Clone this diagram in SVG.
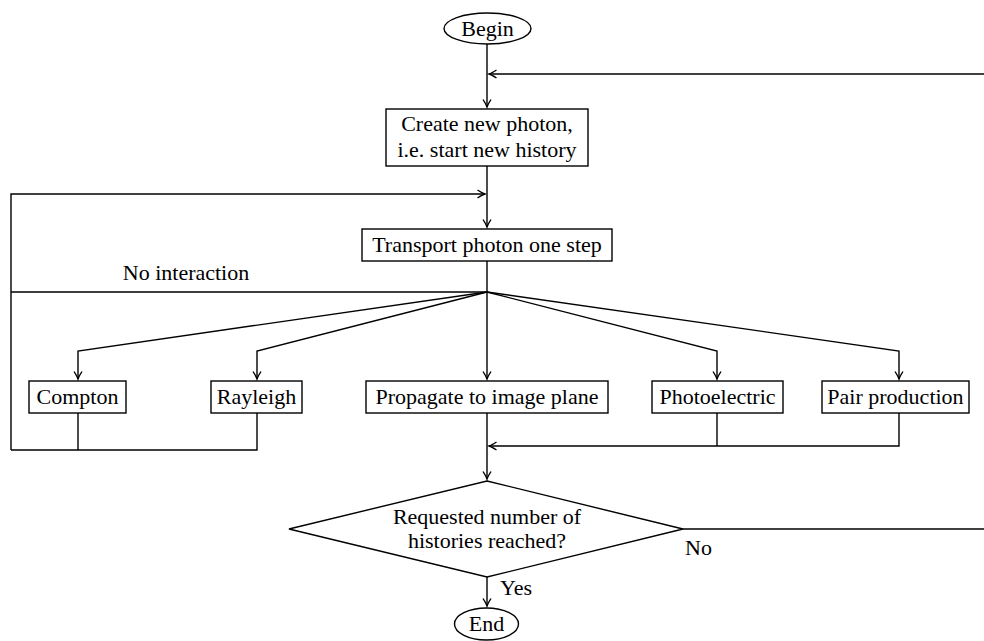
<svg xmlns="http://www.w3.org/2000/svg" width="984" height="641" viewBox="0 0 984 641">
<style>
.n{fill:#fff;stroke:#000;stroke-width:1.4}
.t{font-family:"Liberation Serif","DejaVu Serif",serif;font-size:22px;fill:#000}
.c{text-anchor:middle}
.e{fill:none;stroke:#000;stroke-width:1.4}
</style>
<defs>
<marker id="a" markerUnits="userSpaceOnUse" markerWidth="12" markerHeight="10" viewBox="-8 -4 9 8" refX="0" refY="0" orient="auto">
<path d="M-6,-3.2 Q-2,-0.6 0,0 Q-2,0.6 -6,3.2" fill="none" stroke="#000" stroke-width="1.1"/>
</marker>
</defs>
<g id="connectors">
<path class="e" d="M487,44 V107" marker-end="url(#a)"/>
<path class="e" d="M984,74 H489" marker-end="url(#a)"/>
<path class="e" d="M487,166 V227" marker-end="url(#a)"/>
<path class="e" d="M11,450 V194 H485" marker-end="url(#a)"/>
<path class="e" d="M487,261 V292 H11"/>
<path class="e" d="M487,292 L78,351 V379" marker-end="url(#a)"/>
<path class="e" d="M487,292 L257,351 V379" marker-end="url(#a)"/>
<path class="e" d="M487,292 V379" marker-end="url(#a)"/>
<path class="e" d="M487,292 L717,351 V379" marker-end="url(#a)"/>
<path class="e" d="M487,292 L899,351 V379" marker-end="url(#a)"/>
<path class="e" d="M78,413 V450"/>
<path class="e" d="M257,413 V450 H11"/>
<path class="e" d="M717,413 V446"/>
<path class="e" d="M899,413 V446 H489" marker-end="url(#a)"/>
<path class="e" d="M487,413 V479" marker-end="url(#a)"/>
<path class="e" d="M683,529 H984"/>
<path class="e" d="M487,577 V606" marker-end="url(#a)"/>
<text class="t" x="186" y="280" text-anchor="middle">No interaction</text>
<text class="t" x="685" y="555">No</text>
<text class="t" x="500" y="595">Yes</text>
</g>
<g id="begin">
<ellipse class="n" cx="487.5" cy="28.5" rx="43.5" ry="15.5"/>
<text class="t c" x="487.5" y="35.5">Begin</text>
</g>
<g id="create">
<rect class="n" x="386" y="109" width="202" height="57"/>
<text class="t c" x="487" y="131">Create new photon,</text>
<text class="t c" x="487" y="157">i.e. start new history</text>
</g>
<g id="transport">
<rect class="n" x="362" y="229" width="250" height="32"/>
<text class="t c" x="487" y="252">Transport photon one step</text>
</g>
<g id="compton">
<rect class="n" x="29" y="381" width="97" height="32"/>
<text class="t c" x="77.5" y="404">Compton</text>
</g>
<g id="rayleigh">
<rect class="n" x="211" y="381" width="91" height="32"/>
<text class="t c" x="256.5" y="404">Rayleigh</text>
</g>
<g id="propagate">
<rect class="n" x="366" y="381" width="242" height="32"/>
<text class="t c" x="487" y="404">Propagate to image plane</text>
</g>
<g id="photoelectric">
<rect class="n" x="652" y="381" width="131" height="32"/>
<text class="t c" x="717.5" y="404">Photoelectric</text>
</g>
<g id="pair">
<rect class="n" x="822" y="381" width="147" height="32"/>
<text class="t c" x="895.5" y="404">Pair production</text>
</g>
<g id="decision">
<polygon class="n" points="487,481 683,529 487,577 289,529"/>
<text class="t c" x="487" y="524">Requested number of</text>
<text class="t c" x="487" y="548">histories reached?</text>
</g>
<g id="end">
<ellipse class="n" cx="486.5" cy="624" rx="32" ry="16"/>
<text class="t c" x="486.5" y="631">End</text>
</g>
</svg>
